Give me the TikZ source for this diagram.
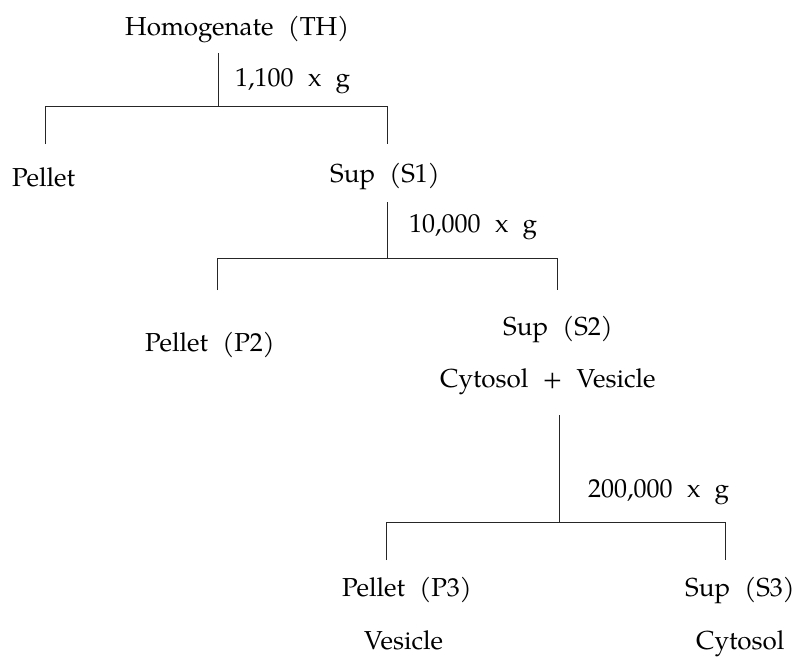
\documentclass[tikz,border=0pt]{standalone}
\usepackage{fontspec}
\setmainfont{TeX Gyre Pagella}
\newcommand{\wgap}{\hspace{0.55em}}
\begin{document}
\begin{tikzpicture}[x=1pt,y=-1pt,
  lbl/.style={inner sep=0pt, font=\fontsize{26}{30}\selectfont, anchor=base west},
  conn/.style={draw=black!85, line width=0.9pt}]
\useasboundingbox (0,0) rectangle (794,658);
% nodes
\node[lbl] (th) at (125,36) {Homogenate\wgap(TH)};
\node[lbl] (g1) at (235,87) {1,100\wgap x\wgap g};
\node[lbl] (p1) at (12,186) {Pellet};
\node[lbl] (s1) at (330,182) {Sup\wgap(S1)};
\node[lbl] (g2) at (409,232) {10,000\wgap x\wgap g};
\node[lbl] (p2) at (145,351) {Pellet\wgap(P2)};
\node[lbl] (s2) at (503,335) {Sup\wgap(S2)};
\node[lbl] (cv) at (440,387) {Cytosol\wgap+\wgap Vesicle};
\node[lbl] (g3) at (588,497) {200,000\wgap x\wgap g};
\node[lbl] (p3) at (342,596) {Pellet\wgap(P3)};
\node[lbl] (s3) at (685,596) {Sup\wgap(S3)};
\node[lbl] (v3) at (364,649) {Vesicle};
\node[lbl] (c3) at (696,649) {Cytosol};
% junction coordinates
\coordinate (a0) at (218,53);
\coordinate (a1) at (218,106);
\coordinate (aL) at (45,106);
\coordinate (aR) at (387,106);
\coordinate (aLe) at (45,144);
\coordinate (aRe) at (387,144);
\coordinate (b0) at (387,202);
\coordinate (b1) at (387,258);
\coordinate (bL) at (217,258);
\coordinate (bR) at (557,258);
\coordinate (bLe) at (217,290);
\coordinate (bRe) at (557,290);
\coordinate (c0) at (559,415);
\coordinate (c1) at (559,522);
\coordinate (cL) at (386,522);
\coordinate (cR) at (725,522);
\coordinate (cLe) at (386,560);
\coordinate (cRe) at (725,560);
% connectors
\draw[conn] (a0) -- (a1);
\draw[conn] (aLe) -- (aL) -- (aR) -- (aRe);
\draw[conn] (b0) -- (b1);
\draw[conn] (bLe) -- (bL) -- (bR) -- (bRe);
\draw[conn] (c0) -- (c1);
\draw[conn] (cLe) -- (cL) -- (cR) -- (cRe);
\end{tikzpicture}
\end{document}
